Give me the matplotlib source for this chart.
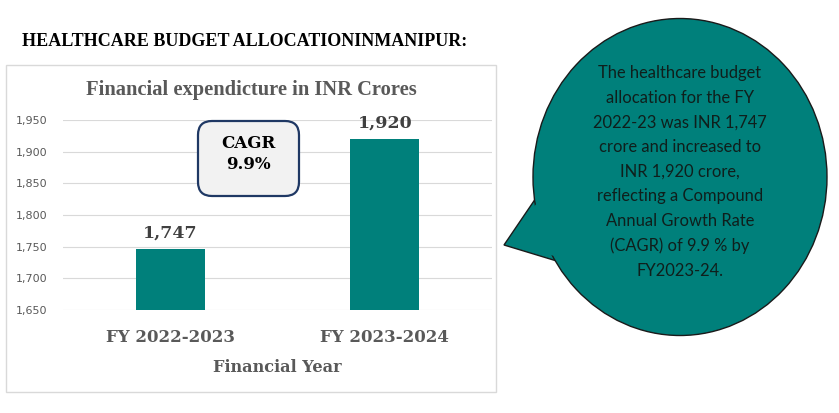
import matplotlib
matplotlib.use("Agg")
import matplotlib.pyplot as plt
from matplotlib.patches import FancyBboxPatch, Rectangle, Ellipse, Polygon
from matplotlib.ticker import FuncFormatter

# data
years = ["FY 2022-2023", "FY 2023-2024"]
budget = [1747, 1920]
cagr = "9.9%"
y_ticks = [1650, 1700, 1750, 1800, 1850, 1900, 1950]

teal = "#00807B"
serif = ["DejaVu Serif"]
serif2 = ["Liberation Serif", "DejaVu Serif"]

W, H = 839, 413
fig = plt.figure(figsize=(W / 100, H / 100), dpi=100)

# bar chart area (pixel positions from the picture)
ax = fig.add_axes([63 / W, (H - 310) / H, 429 / W, 190 / H])
ax.bar(range(len(years)), budget, width=0.32, color=teal, zorder=2)
ax.set_xlim(-0.5, 1.5)
ax.set_ylim(y_ticks[0], y_ticks[-1])
ax.set_yticks(y_ticks)
ax.yaxis.set_major_formatter(FuncFormatter(lambda v, p: f"{int(v):,}"))
ax.grid(axis="y", color="#D9D9D9", lw=0.8, zorder=0)
ax.tick_params(axis="y", length=0, labelsize=8, labelcolor="#595959", pad=11)
ax.set_xticks(range(len(years)))
ax.set_xticklabels(years, family=serif, fontsize=12, fontweight="bold", color="#595959")
ax.tick_params(axis="x", length=0, pad=14)
for s in ax.spines.values():
    s.set_visible(False)
ax.set_xlabel("Financial Year", family=serif, fontsize=11.6, fontweight="bold",
              color="#595959", labelpad=9)
for i, v in enumerate(budget):
    ax.annotate(f"{v:,}", (i, v), xytext=(0, 5), textcoords="offset points",
                ha="center", va="bottom", family=serif, fontsize=12.5,
                fontweight="bold", color="#404040")

# overlay in pixel coordinates for boxes and the callout
ov = fig.add_axes([0, 0, 1, 1], facecolor="none")
ov.set_xlim(0, W)
ov.set_ylim(H, 0)
ov.axis("off")

fig.text(22 / W, 1 - 42 / H, "HEALTHCARE BUDGET ALLOCATIONINMANIPUR:",
         family=serif2, fontsize=13, fontweight="bold", color="black",
         ha="left", va="center")
ov.add_patch(Rectangle((6, 65), 490, 327, fill=False, ec="#D9D9D9", lw=1))
ov.text(251, 90, "Financial expendicture in INR Crores", family=serif2,
        fontsize=14.8, fontweight="bold", color="#595959", ha="center", va="center")

ov.add_patch(FancyBboxPatch((198, 121), 101, 75,
                            boxstyle="round,pad=0,rounding_size=14",
                            fc="#F2F2F2", ec="#1F3864", lw=1.6, zorder=3))
ov.text(248, 154, "CAGR\n" + cagr, family=serif, fontsize=12, fontweight="bold",
        color="black", ha="center", va="center", linespacing=1.35, zorder=4)

# speech bubble
ov.add_patch(Polygon([(538, 195), (504, 245), (560, 262)], closed=True,
                     fc=teal, ec="#1a1a1a", lw=1, zorder=3))
ov.add_patch(Ellipse((680, 177), 294, 317, fc=teal, ec="#1a1a1a", lw=1, zorder=3))
ov.add_patch(Polygon([(541, 197), (508, 244), (562, 258), (570, 230)], closed=True,
                     fc=teal, ec="none", zorder=4))
bubble = ("The healthcare budget\nallocation for the FY\n2022-23 was INR 1,747\n"
          "crore and increased to\nINR 1,920 crore,\nreflecting a Compound\n"
          "Annual Growth Rate\n(CAGR) of 9.9 % by\nFY2023-24.")
ov.text(680, 172, bubble, family=["Lato", "DejaVu Sans"], fontsize=11.9,
        color="#0f1f1c", ha="center", va="center", linespacing=1.66, zorder=5)

fig.savefig("out.png", dpi=100)
